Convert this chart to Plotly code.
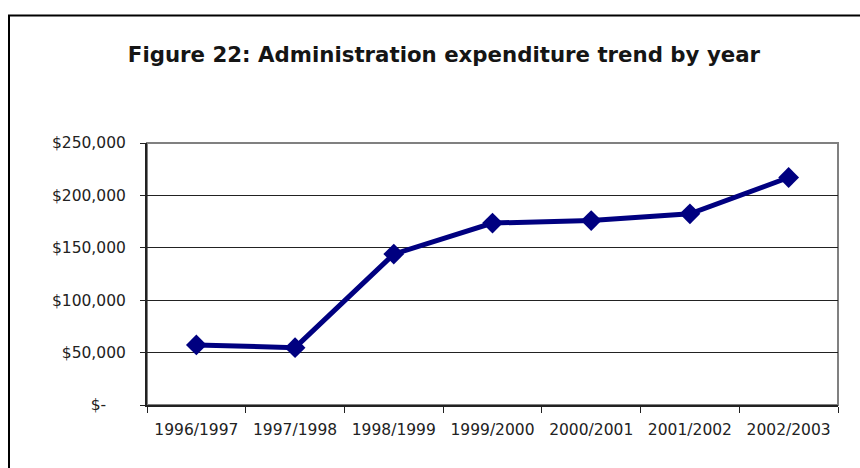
import plotly.graph_objects as go

# Administration expenditure by financial year
years = ["1996/1997", "1997/1998", "1998/1999", "1999/2000",
         "2000/2001", "2001/2002", "2002/2003"]
expenditure = [57300, 54700, 144000, 173600, 176000, 182400, 217100]

y_tick_values = [0, 50000, 100000, 150000, 200000, 250000]
y_tick_labels = ["$-\u00a0\u00a0\u00a0\u00a0", "$50,000", "$100,000", "$150,000",
                 "$200,000", "$250,000"]

W, H = 860, 468
ML, MR, MT, MB = 147, 22, 143, 63
pw, ph = W - ML - MR, H - MT - MB


def px_x(v):
    return (v - ML) / pw


def px_y(v):
    return (H - MB - v) / ph


fig = go.Figure()
fig.add_trace(go.Scatter(
    x=years, y=expenditure, mode="lines+markers",
    line=dict(color="#000080", width=5),
    marker=dict(symbol="diamond", size=16, color="#000080"),
    cliponaxis=False, showlegend=False,
))

font = "DejaVu Sans, Verdana, sans-serif"

fig.update_layout(
    width=W, height=H,
    margin=dict(l=ML, r=MR, t=MT, b=MB),
    paper_bgcolor="white", plot_bgcolor="white",
    font=dict(family=font, size=15.5, color="#222"),
    title=dict(text="<b>Figure 22: Administration expenditure trend by year</b>",
               x=444 / W, xanchor="center", y=1 - 55 / H, yanchor="middle",
               xref="container", yref="container",
               font=dict(family=font, size=21.3, color="#151515")),
    xaxis=dict(type="category", range=[-0.5, 6.5], tickson="boundaries",
               ticks="outside", ticklen=6, tickwidth=1, tickcolor="#222",
               showline=True, linecolor="#222", linewidth=2,
               showgrid=False, zeroline=False, fixedrange=True,
               ticklabelstandoff=9,
               tickfont=dict(size=15.5, color="#222")),
    yaxis=dict(range=[0, 250000], tickvals=y_tick_values, ticktext=y_tick_labels,
               ticks="outside", ticklen=5, tickwidth=1, tickcolor="#222",
               showline=True, linecolor="#222", linewidth=2,
               showgrid=True, gridcolor="#222", gridwidth=1,
               zeroline=False, fixedrange=True, ticklabelstandoff=11,
               tickfont=dict(size=15.5, color="#222")),
    shapes=[
        # grey plot-area frame (top and right edges show)
        dict(type="rect", xref="paper", yref="paper", x0=0, x1=1, y0=0, y1=1,
             line=dict(color="#808080", width=2), layer="below"),
        # outer chart border
        dict(type="rect", xref="paper", yref="paper",
             x0=px_x(9), x1=px_x(875), y0=px_y(480), y1=px_y(15.5),
             line=dict(color="#000", width=2), layer="below"),
    ],
)

fig.write_html("out.html")
